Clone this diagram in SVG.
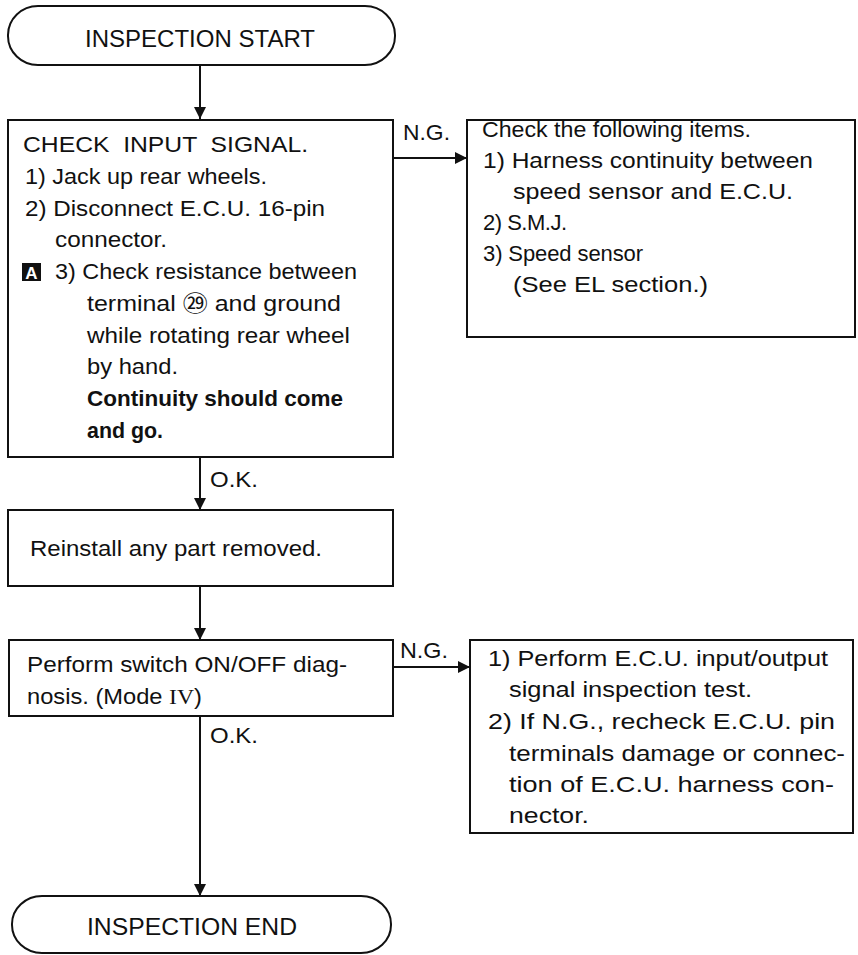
<svg xmlns="http://www.w3.org/2000/svg" width="858" height="955" viewBox="0 0 858 955">
<style>
  .box { fill: #fff; stroke: #111; stroke-width: 2; }
  .t { font-family: "Liberation Sans", Arial, sans-serif; font-size: 22px; fill: #111; }
  .b { font-weight: bold; }
  .term { font-size: 23px; }
  .conn { stroke: #111; stroke-width: 2; fill: none; marker-end: url(#arr); }
</style>
<defs>
  <marker id="arr" viewBox="0 0 12 12" refX="12" refY="6" markerWidth="12" markerHeight="12" markerUnits="userSpaceOnUse" orient="auto">
    <path d="M0,0 L12,6 L0,12 Z" fill="#111"/>
  </marker>
</defs>
<rect width="858" height="955" fill="#fff"/>

<g id="connectors">
  <line class="conn" x1="200" y1="65" x2="200" y2="119"/>
  <line class="conn" x1="393" y1="158" x2="467" y2="158"/>
  <line class="conn" x1="200" y1="457" x2="200" y2="510"/>
  <line class="conn" x1="200" y1="586" x2="200" y2="640"/>
  <line class="conn" x1="393" y1="667" x2="470" y2="667"/>
  <line class="conn" x1="200" y1="716" x2="200" y2="896"/>
  <text class="t" x="403" y="140" textLength="47" lengthAdjust="spacingAndGlyphs">N.G.</text>
  <text class="t" x="210" y="487" textLength="48" lengthAdjust="spacingAndGlyphs">O.K.</text>
  <text class="t" x="400" y="658" textLength="48" lengthAdjust="spacingAndGlyphs">N.G.</text>
  <text class="t" x="210" y="743" textLength="48" lengthAdjust="spacingAndGlyphs">O.K.</text>
</g>

<g id="start">
  <rect class="box" x="8" y="6" width="387" height="59" rx="30" ry="29"/>
  <text class="t term" x="85" y="47" textLength="230" lengthAdjust="spacingAndGlyphs">INSPECTION START</text>
</g>

<g id="check-input">
  <rect class="box" x="8" y="120" width="385" height="337"/>
  <text class="t" x="23" y="152" textLength="285" lengthAdjust="spacingAndGlyphs" xml:space="preserve">CHECK  INPUT  SIGNAL.</text>
  <text class="t" x="25" y="184" textLength="242" lengthAdjust="spacingAndGlyphs">1) Jack up rear wheels.</text>
  <text class="t" x="25" y="216" textLength="300" lengthAdjust="spacingAndGlyphs">2) Disconnect E.C.U. 16-pin</text>
  <text class="t" x="55" y="247" textLength="112" lengthAdjust="spacingAndGlyphs">connector.</text>
  <rect x="22" y="263" width="19" height="18" fill="#111"/>
  <text class="t b" x="31.5" y="279" text-anchor="middle" style="fill:#fff;font-size:17px">A</text>
  <text class="t" x="55" y="279" textLength="302" lengthAdjust="spacingAndGlyphs">3) Check resistance between</text>
  <text class="t" x="87" y="311" textLength="254" lengthAdjust="spacingAndGlyphs">terminal <tspan style="font-family:'Noto Sans CJK JP',sans-serif;font-size:22px">㉙</tspan> and ground</text>
  <text class="t" x="87" y="343" textLength="263" lengthAdjust="spacingAndGlyphs">while rotating rear wheel</text>
  <text class="t" x="87" y="374" textLength="91" lengthAdjust="spacingAndGlyphs">by hand.</text>
  <text class="t b" x="87" y="406" textLength="256" lengthAdjust="spacingAndGlyphs">Continuity should come</text>
  <text class="t b" x="87" y="438" textLength="76" lengthAdjust="spacingAndGlyphs">and go.</text>
</g>

<g id="check-items">
  <rect class="box" x="467" y="120" width="388" height="217"/>
  <text class="t" x="482" y="137" textLength="269" lengthAdjust="spacingAndGlyphs">Check the following items.</text>
  <text class="t" x="483" y="168" textLength="330" lengthAdjust="spacingAndGlyphs">1) Harness continuity between</text>
  <text class="t" x="513" y="199" textLength="280" lengthAdjust="spacingAndGlyphs">speed sensor and E.C.U.</text>
  <text class="t" x="483" y="230" textLength="84" lengthAdjust="spacing">2) S.M.J.</text>
  <text class="t" x="483" y="261" textLength="160" lengthAdjust="spacing">3) Speed sensor</text>
  <text class="t" x="513" y="292" textLength="195" lengthAdjust="spacingAndGlyphs">(See EL section.)</text>
</g>

<g id="reinstall">
  <rect class="box" x="8" y="510" width="385" height="76"/>
  <text class="t" x="30" y="556" textLength="292" lengthAdjust="spacingAndGlyphs">Reinstall any part removed.</text>
</g>

<g id="switch-diagnosis">
  <rect class="box" x="9" y="640" width="384" height="76"/>
  <text class="t" x="27" y="672" textLength="320" lengthAdjust="spacingAndGlyphs">Perform switch ON/OFF diag-</text>
  <text class="t" x="27" y="704" textLength="175" lengthAdjust="spacingAndGlyphs">nosis. (Mode <tspan style="font-family:'Liberation Serif',serif">IV</tspan>)</text>
</g>

<g id="ecu-test">
  <rect class="box" x="470" y="640" width="383" height="193"/>
  <text class="t" x="488" y="666" textLength="340" lengthAdjust="spacingAndGlyphs">1) Perform E.C.U. input/output</text>
  <text class="t" x="509" y="697" textLength="243" lengthAdjust="spacingAndGlyphs">signal inspection test.</text>
  <text class="t" x="488" y="729" textLength="347" lengthAdjust="spacingAndGlyphs">2) If N.G., recheck E.C.U. pin</text>
  <text class="t" x="509" y="761" textLength="336" lengthAdjust="spacingAndGlyphs">terminals damage or connec-</text>
  <text class="t" x="509" y="792" textLength="325" lengthAdjust="spacingAndGlyphs">tion of E.C.U. harness con-</text>
  <text class="t" x="509" y="823" textLength="80" lengthAdjust="spacingAndGlyphs">nector.</text>
</g>

<g id="end">
  <rect class="box" x="12" y="896" width="379" height="57" rx="30" ry="28"/>
  <text class="t term" x="87" y="935" textLength="210" lengthAdjust="spacingAndGlyphs">INSPECTION END</text>
</g>
</svg>
